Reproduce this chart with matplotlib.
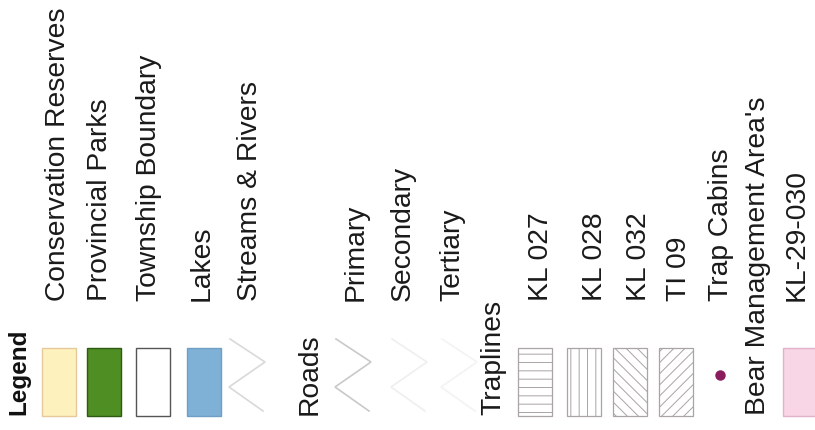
import matplotlib
matplotlib.use("Agg")
import matplotlib.pyplot as plt
import matplotlib.patches as patches

plt.rcParams["font.family"] = ["Liberation Sans", "DejaVu Sans"]
plt.rcParams["hatch.linewidth"] = 0.7

W, H = 815, 431

# legend entries (label text, reading bottom-to-top)
top_labels = ["Conservation Reserves", "Provincial Parks", "Township Boundary",
              "Lakes", "Streams & Rivers", "Primary", "Secondary", "Tertiary",
              "KL 027", "KL 028", "KL 032", "TI 09", "Trap Cabins", "KL-29-030"]
top_label_x = [65, 107, 156, 209, 257, 363, 410, 459, 548, 602, 646, 686, 728, 804]

group_labels = ["Roads", "Traplines", "Bear Management Area's"]
group_label_x = [317, 500, 765]

# filled swatches
fill_x = [42, 87, 136, 187, 783]
fill_colors = ["#fdf1bd", "#4f8e22", "#ffffff", "#7fb0d6", "#f8d6e6"]
fill_edges = ["#e6c99a", "#2f5a14", "#555555", "#6f9fc4", "#e2b0c8"]

# hatched trapline swatches
hatch_x = [518, 567, 613, 659]
hatch_styles = ["--", "||", "\\\\\\", "///"]

# line swatches (streams, roads primary/secondary/tertiary)
line_x = [228, 334, 390, 440]
line_colors = ["#d9d9d9", "#c9c9c9", "#efefef", "#f3f3f3"]
zig_dx = [2, 37, 1, 35]
zig_dy = [340, 363, 388, 412]

fig = plt.figure(figsize=(W / 100, H / 100), dpi=100)
ax = fig.add_axes([0, 0, 1, 1])
ax.set_xlim(0, W)
ax.set_ylim(H, 0)
ax.axis("off")

fs = 20.3

ax.text(25, 415, "Legend", rotation=90, rotation_mode="anchor", ha="left",
        va="baseline", fontsize=17.5, fontweight="bold", color="#111111")

for lab, x in zip(top_labels, top_label_x):
    ax.text(x, 301, lab, rotation=90, rotation_mode="anchor", ha="left",
            va="baseline", fontsize=fs, color="#1a1a1a")

for lab, x in zip(group_labels, group_label_x):
    ax.text(x, 415, lab, rotation=90, rotation_mode="anchor", ha="left",
            va="baseline", fontsize=fs, color="#1a1a1a")

sw_y, sw_w, sw_h = 349, 34, 68

for x, fc, ec in zip(fill_x, fill_colors, fill_edges):
    ax.add_patch(patches.Rectangle((x, sw_y), sw_w, sw_h, facecolor=fc,
                                   edgecolor=ec, linewidth=1.0))

for x, h in zip(hatch_x, hatch_styles):
    ax.add_patch(patches.Rectangle((x, sw_y), sw_w, sw_h, facecolor="white",
                                   edgecolor="#aaa3a7", hatch=h, linewidth=0.9))

for x, c in zip(line_x, line_colors):
    ax.plot([x + d for d in zig_dx], zig_dy, color=c, linewidth=1.2,
            solid_joinstyle="miter")

# trap cabin marker
ax.plot([720], [376], "o", color="#8a1b5c", markersize=6.5)

fig.savefig("out.png", dpi=100, facecolor="white")
